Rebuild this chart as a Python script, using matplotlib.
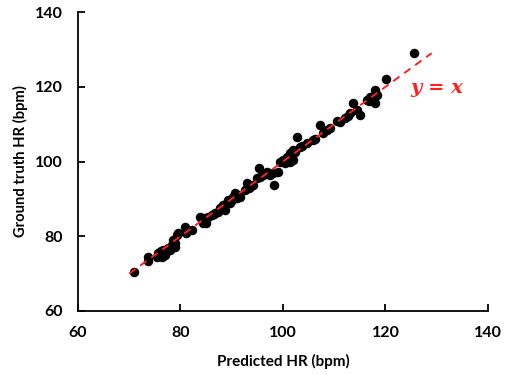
import numpy as np
import matplotlib.pyplot as plt

# predicted vs ground truth heart rate (bpm)
predicted = [70.9, 73.7, 73.7, 75.4, 75.6, 76.0, 76.4, 76.6, 77.0,
             77.6, 78.0, 78.3, 78.5, 78.9, 79.3, 79.5, 80.9, 81.3, 81.1,
             82.2, 83.8, 84.4, 85.0, 85.4, 86.1, 86.7, 87.3, 87.7, 88.3,
             88.7, 89.3, 89.7, 90.0, 90.2, 90.6, 91.0, 91.6, 92.6, 93.0,
             93.6, 94.1, 94.9, 95.3, 95.5, 96.1, 96.9, 97.5, 98.0, 99.0,
             98.2, 99.4, 100.0, 100.8, 101.4, 102.0, 101.4, 102.3, 102.7,
             102.0, 101.4, 103.3, 104.7, 105.9, 107.2, 107.8, 108.6, 109.2,
             111.1, 112.1, 113.1, 113.7, 114.4, 115.0, 116.4, 117.0, 118.0,
             118.0, 118.3, 120.1, 125.6,
             76.2, 77.3, 79.0, 84.6, 86.5, 89.0, 91.3, 93.3, 96.5, 100.4,
             101.8, 103.8, 106.3, 110.6, 112.6, 116.8]
ground_truth = [70.5, 74.5, 73.4, 74.5, 75.6, 75.8, 74.5, 76.4, 75.0,
                76.9, 76.4, 77.7, 79.0, 77.2, 80.4, 80.9, 82.5, 81.7, 80.9,
                81.7, 85.2, 83.6, 83.6, 85.2, 85.7, 86.2, 86.5, 87.6, 88.4,
                87.0, 89.7, 88.9, 89.7, 90.5, 91.6, 90.3, 90.5, 92.4, 94.3,
                93.2, 93.7, 95.6, 98.3, 95.9, 96.4, 97.2, 96.4, 97.0, 97.2,
                93.7, 99.9, 100.4, 101.2, 99.9, 100.4, 102.3, 102.6, 106.6,
                103.1, 101.8, 103.9, 105.0, 105.8, 109.8, 107.6, 108.4, 109.0,
                110.6, 111.7, 113.0, 115.7, 113.8, 112.5, 116.5, 117.3, 119.1,
                115.7, 117.8, 122.1, 129.0,
                76.0, 76.0, 78.3, 84.8, 86.0, 88.8, 91.0, 93.0, 96.8, 99.6,
                101.0, 104.2, 106.0, 110.8, 112.3, 116.3]

ref_line = [70, 129]

plt.rcParams["font.family"] = ["Lato", "DejaVu Sans"]

fig = plt.figure(figsize=(5.08, 3.75), dpi=100)
ax = fig.add_axes([0.1535, 0.1707, 0.807, 0.797])

ax.plot(ref_line, ref_line, color="#ff2020", linestyle=(0, (4, 3)), linewidth=1.4, zorder=3)
ax.scatter(predicted, ground_truth, s=34, color="black", zorder=2)

ax.text(124.8, 119.7, "y = x", color="#ff2020", fontsize=14, fontweight="bold",
        fontstyle="italic", family="DejaVu Serif", va="center", ha="left")

ax.set_xlim(60, 140)
ax.set_ylim(60, 140)
ax.set_xticks(np.arange(60, 141, 20))
ax.set_yticks(np.arange(60, 141, 20))

for side in ["top", "right"]:
    ax.spines[side].set_visible(False)
for side in ["left", "bottom"]:
    ax.spines[side].set_linewidth(1.3)

ax.tick_params(direction="in", length=5, width=1.3, labelsize=11.5, pad=11)
for lab in ax.get_xticklabels() + ax.get_yticklabels():
    lab.set_fontweight("bold")

ax.set_xlabel("Predicted HR (bpm)", fontsize=11, fontweight="bold", labelpad=10)
ax.set_ylabel("Ground truth HR (bpm)", fontsize=10.6, fontweight="bold", labelpad=5)

fig.savefig("out.png", dpi=100)
